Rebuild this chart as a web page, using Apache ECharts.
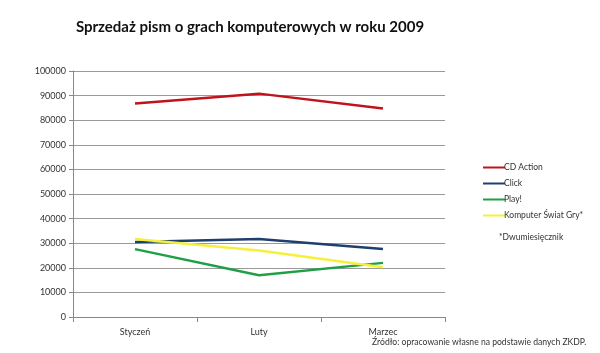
<!DOCTYPE html>
<html><head><meta charset="utf-8">
<script src="https://cdn.jsdelivr.net/npm/echarts@6/dist/echarts.min.js"></script>
<style>html,body{margin:0;padding:0;background:#fff}#c{width:600px;height:353px}</style>
</head><body><div id="c"></div>
<script>
const categories = ['Styczeń', 'Luty', 'Marzec'];
const cdAction = [86800, 90800, 84800];
const click = [30500, 31700, 27600];
const play = [27600, 17000, 22000];
const komputerSwiatGry = [31700, 27000, 20200];
const yTicks = { min: 0, max: 100000, interval: 10000 };

const seriesDefs = [
  { name: 'CD Action', data: cdAction, color: '#c0141c' },
  { name: 'Click', data: click, color: '#1f3f6e' },
  { name: 'Play!', data: play, color: '#1fa046' },
  { name: 'Komputer Świat Gry*', data: komputerSwiatGry, color: '#f5f03a' }
];
const font = 'Lato, "Open Sans", sans-serif';
const chart = echarts.init(document.getElementById('c'));
chart.setOption({
  animation: false,
  title: {
    text: 'Sprzedaż pism o grach komputerowych w roku 2009',
    left: 245, top: 15, textAlign: 'center',
    textStyle: { fontFamily: font, fontSize: 15, fontWeight: 'bold', color: '#111' }
  },
  legend: {
    orient: 'vertical', left: 478, top: 158, itemGap: 7,
    itemWidth: 22, itemHeight: 2, icon: 'rect',
    textStyle: { fontFamily: font, fontSize: 8.5, color: '#333', padding: [0, 0, 0, -6] },
    data: seriesDefs.map(s => s.name)
  },
  graphic: [
    { type: 'text', left: 499, top: 233, style: { text: '*Dwumiesięcznik', font: '8.5px ' + font, fill: '#333' } },
    { type: 'text', left: 372, top: 338, style: { text: 'Źródło: opracowanie własne na podstawie danych ZKDP.', font: '8.6px ' + font, fill: '#333' } }
  ],
  grid: { left: 73, right: 155, top: 71, bottom: 36 },
  xAxis: {
    type: 'category', data: categories, boundaryGap: true,
    axisLine: { lineStyle: { color: '#888' } },
    axisTick: { show: true, length: 5, lineStyle: { color: '#888' } },
    axisLabel: { fontFamily: font, fontSize: 9, color: '#333', margin: 11 }
  },
  yAxis: {
    type: 'value', min: yTicks.min, max: yTicks.max, interval: yTicks.interval,
    axisLine: { show: true, lineStyle: { color: '#888' } },
    axisTick: { show: true, length: 4, lineStyle: { color: '#888' } },
    axisLabel: { fontFamily: font, fontSize: 9, color: '#333', margin: 7, formatter: v => String(v) },
    splitLine: { lineStyle: { color: '#999' } }
  },
  series: seriesDefs.map(s => ({
    name: s.name, type: 'line', data: s.data, symbol: 'none',
    lineStyle: { width: 2.5, color: s.color }, itemStyle: { color: s.color }
  }))
});
</script></body></html>
